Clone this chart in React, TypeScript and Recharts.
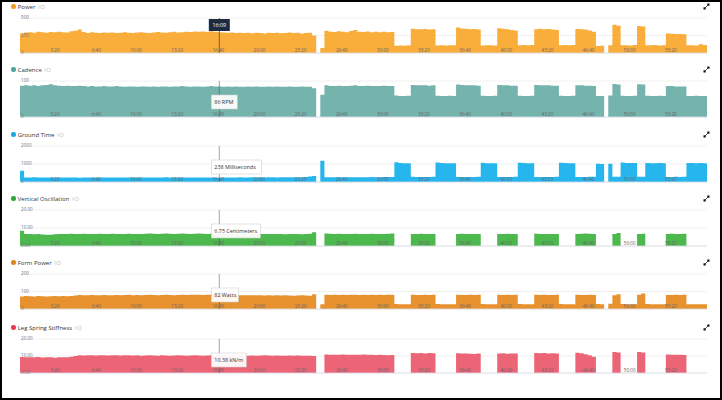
import React from "react";
import { AreaChart, Area, XAxis, YAxis, CartesianGrid, ReferenceLine } from "recharts";

document.body.style.margin = "0";

const FONT = "'Open Sans', 'Noto Sans', sans-serif";

// one sample every 20 s, 0 .. 55:40
const SAMPLE_SEC = 20;
const TIME_END = 3340;
const TIME_TICKS = [200, 400, 600, 800, 1000, 1200, 1400, 1600, 1800, 2000, 2200, 2400, 2600, 2800, 3000, 3200];
const TIME_LABELS = ["3:20", "6:40", "10:00", "13:20", "16:40", "20:00", "23:20", "26:40", "30:00", "33:20", "36:40", "40:00", "43:20", "46:40", "50:00", "53:20"];
const CURSOR_SEC = 969;
const CURSOR_LABEL = "16:09";

const POWER = [
  280, 292, 298, 290, 302, 295, 288, 300, 296, 305,
  298, 292, 310, 318, 335, 300, 285, 296, 290, 284,
  292, 288, 294, 286, 290, 296, 288, 284, 292, 298,
  290, 286, 294, 300, 292, 288, 296, 302, 294, 298,
  305, 300, 308, 302, 306, 300, 310, 302, 296, 292,
  288, 294, 286, 290, 284, 288, 282, 290, 286, 280,
  288, 284, 290, 282, 286, 292, 284, 288, 280, 286,
  290, 250, 0, 70, 318, 305, 300, 310, 302, 298,
  315, 330, 305, 300, 308, 296, 302, 298, 304, 296,
  300, 105, 108, 104, 110, 345, 340, 338, 342, 336,
  340, 108, 110, 106, 109, 112, 365, 350, 345, 340,
  342, 335, 108, 110, 112, 106, 352, 348, 340, 330,
  322, 112, 115, 110, 114, 340, 345, 338, 342, 336,
  330, 112, 115, 110, 113, 342, 338, 335, 320, 305,
  100, 105, 0, 110, 405, 390, 110, 112, 108, 115,
  385, 380, 112, 110, 115, 108, 112, 280, 275, 272,
  270, 268, 110, 112, 108, 125, 115, 112,
];

const CADENCE = [
  87, 88, 87, 88, 86, 88, 89, 91, 88, 87,
  86, 87, 86, 86, 87, 86, 85, 86, 85, 85,
  86, 85, 85, 86, 85, 84, 85, 85, 84, 85,
  85, 84, 85, 84, 85, 85, 84, 85, 85, 86,
  85, 84, 85, 85, 84, 85, 86, 85, 85, 84,
  85, 84, 85, 84, 84, 85, 84, 85, 84, 84,
  85, 84, 85, 84, 84, 85, 84, 84, 85, 84,
  84, 80, 0, 62, 88, 86, 86, 87, 86, 86,
  87, 88, 86, 86, 87, 86, 86, 86, 87, 86,
  86, 60, 58, 58, 59, 89, 88, 88, 88, 87,
  88, 59, 58, 58, 59, 58, 90, 89, 88, 88,
  88, 87, 59, 58, 58, 59, 89, 88, 88, 87,
  87, 59, 58, 58, 59, 89, 88, 88, 88, 87,
  87, 59, 58, 58, 59, 88, 88, 87, 87, 86,
  58, 58, 0, 60, 92, 90, 59, 58, 58, 59,
  91, 90, 59, 58, 58, 59, 58, 86, 86, 85,
  85, 85, 58, 58, 59, 58, 58, 58,
];

const GROUND_TIME = [
  620, 255, 250, 258, 246, 252, 248, 255, 250, 244,
  250, 256, 248, 245, 240, 246, 250, 248, 252, 246,
  250, 254, 248, 252, 256, 250, 248, 254, 250, 246,
  252, 256, 250, 248, 254, 258, 252, 250, 256, 252,
  248, 254, 250, 246, 252, 256, 250, 248, 238, 252,
  256, 250, 254, 258, 252, 256, 260, 254, 258, 256,
  262, 258, 256, 262, 260, 258, 264, 262, 270, 280,
  300, 330, 0, 1180, 270, 265, 268, 262, 266, 270,
  264, 262, 268, 270, 266, 272, 268, 270, 274, 278,
  280, 1100, 1060, 1045, 1040, 285, 280, 278, 282, 280,
  285, 1080, 1050, 1045, 1040, 1035, 280, 282, 278, 280,
  284, 290, 1070, 1045, 1040, 1035, 280, 278, 282, 284,
  290, 1070, 1050, 1045, 1040, 282, 280, 278, 282, 284,
  288, 1070, 1050, 1040, 1035, 282, 280, 284, 286, 290,
  1010, 1000, 0, 1010, 285, 290, 1080, 1060, 1050, 1050,
  285, 290, 1060, 1045, 1040, 1050, 1045, 280, 282, 285,
  284, 288, 1050, 1055, 1045, 1050, 1045, 1045,
];

const VERTICAL_OSC = [
  8.5, 6.6, 6.7, 6.5, 6.6, 6.4, 6.2, 6.3, 6.5, 6.6,
  6.7, 6.6, 6.8, 6.7, 6.6, 6.8, 6.7, 6.6, 6.7, 6.8,
  6.7, 6.6, 6.8, 6.7, 6.6, 6.7, 6.8, 6.7, 6.6, 6.7,
  6.8, 6.9, 6.8, 6.7, 6.8, 6.9, 6.8, 6.7, 6.8, 6.9,
  6.8, 6.7, 6.8, 6.9, 6.8, 6.7, 6.8, 6.7, 6.75, 6.8,
  6.7, 6.8, 6.7, 6.6, 6.7, 6.8, 6.7, 6.6, 6.7, 6.6,
  6.7, 6.6, 6.7, 6.6, 6.5, 6.6, 6.7, 6.6, 6.5, 6.7,
  6.8, 7.6, 7.6, null, 6.9, 6.8, 6.7, 6.8, 6.7, 6.6,
  6.7, 6.8, 6.7, 6.6, 6.7, 6.8, 6.7, 6.6, 6.7, 6.8,
  6.9, 6.9, null, null, null, 6.6, 6.7, 6.8, 6.7, 6.6,
  6.7, 6.7, null, null, null, null, 6.7, 6.8, 6.6, 6.7,
  6.6, 6.7, 6.7, null, null, null, 6.6, 6.7, 6.8, 6.6,
  6.7, 6.7, null, null, null, 6.8, 6.7, 6.6, 6.7, 6.6,
  6.7, 6.7, null, null, null, 6.7, 6.8, 6.9, 6.8, 6.7,
  6.7, null, null, null, 6.6, 7.2, 7.2, null, null, null,
  6.6, 6.8, 6.8, null, null, null, null, 6.7, 6.8, 6.6,
  6.7, 6.8, 6.8, null, null, null, null, null,
];

const FORM_POWER = [
  72, 74, 73, 72, 74, 73, 72, 73, 74, 73,
  74, 73, 75, 77, 80, 79, 78, 80, 79, 78,
  80, 79, 78, 80, 79, 80, 81, 79, 80, 79,
  80, 81, 80, 79, 80, 81, 80, 79, 80, 81,
  80, 81, 82, 81, 80, 81, 82, 81, 82, 81,
  80, 79, 80, 79, 78, 79, 78, 79, 78, 77,
  78, 77, 78, 77, 78, 77, 76, 77, 78, 77,
  76, 84, 0, 27, 82, 80, 81, 80, 81, 80,
  81, 82, 80, 81, 80, 81, 80, 81, 80, 81,
  82, 28, 27, 27, 27, 82, 80, 80, 81, 80,
  81, 28, 27, 27, 27, 27, 82, 80, 80, 81,
  80, 81, 28, 27, 27, 27, 82, 80, 81, 80,
  81, 28, 27, 27, 27, 82, 80, 81, 80, 80,
  81, 28, 27, 27, 27, 81, 80, 80, 81, 80,
  28, 27, 0, 30, 78, 84, 28, 27, 27, 27,
  82, 88, 28, 27, 27, 27, 27, 80, 80, 81,
  80, 81, 27, 27, 27, 27, 27, 27,
];

const LEG_SPRING = [
  9.4, 9.2, 9.3, 9.2, 9.4, 9.1, 9.3, 9.2, 9.0, 9.3,
  9.2, 9.3, 9.6, 10.0, 10.4, 10.3, 10.5, 10.4, 10.3, 10.5,
  10.4, 10.3, 10.4, 10.5, 10.3, 10.4, 10.5, 10.3, 10.4, 10.2,
  10.3, 10.4, 10.3, 10.2, 10.4, 10.3, 10.2, 10.3, 10.4, 10.3,
  10.2, 10.3, 10.4, 10.3, 10.2, 10.3, 10.4, 10.3, 10.38, 10.3,
  10.2, 10.3, 10.2, 10.3, 10.4, 10.2, 10.3, 10.2, 10.3, 10.4,
  10.3, 10.2, 10.3, 10.2, 10.1, 10.3, 10.2, 10.3, 10.2, 10.1,
  10.2, 10.0, 10.0, null, 10.9, 10.8, 10.7, 10.8, 10.9, 10.7,
  10.8, 10.7, 10.8, 10.9, 10.7, 10.8, 10.6, 10.7, 10.6, 10.5,
  10.6, 10.6, null, null, null, 11.8, 11.6, 11.7, 11.5, 11.8,
  11.6, 11.6, null, null, null, null, 11.6, 11.4, 11.5, 11.3,
  11.2, 11.4, 11.4, null, null, null, 11.4, 11.6, 11.3, 11.5,
  11.4, 11.4, null, null, null, 11.8, 11.6, 11.7, 11.5, 11.6,
  11.4, 11.4, null, null, null, 11.9, 11.6, 11.0, 10.4, 9.6,
  9.6, null, null, null, 12.3, 12.1, 12.1, null, null, null,
  12.3, 12.0, 12.0, null, null, null, null, 10.9, 10.8, 10.7,
  10.8, 10.6, 10.6, null, null, null, null, null,
];

const rows = POWER.map((_, i) => ({
  t: i * SAMPLE_SEC,
  power: POWER[i],
  cadence: CADENCE[i],
  groundTime: GROUND_TIME[i],
  verticalOsc: VERTICAL_OSC[i],
  formPower: FORM_POWER[i],
  legSpring: LEG_SPRING[i],
}));

const PANELS = [
  { key: "power", title: "Power", fill: "#F9AD3B", dot: "#F39C1C", top: 18, bottom: 53, ticks: [0, 250, 500], digits: 0, readout: null, boxW: 0 },
  { key: "cadence", title: "Cadence", fill: "#74B4AC", dot: "#4FA398", top: 81, bottom: 117, ticks: [0, 100], digits: 0, readout: "86 RPM", boxW: 26 },
  { key: "groundTime", title: "Ground Time", fill: "#27B5EE", dot: "#17A9E6", top: 146, bottom: 182, ticks: [0, 1000, 2000], digits: 0, readout: "238 Milliseconds", boxW: 50 },
  { key: "verticalOsc", title: "Vertical Oscillation", fill: "#4DB84D", dot: "#2FA63A", top: 210, bottom: 246, ticks: [0, 10, 20], digits: 2, readout: "6.75 Centimeters", boxW: 49 },
  { key: "formPower", title: "Form Power", fill: "#E8922F", dot: "#E0861C", top: 274, bottom: 309, ticks: [0, 100, 200], digits: 0, readout: "82 Watts", boxW: 27 },
  { key: "legSpring", title: "Leg Spring Stiffness", fill: "#EC6577", dot: "#E63A52", top: 339, bottom: 373, ticks: [0, 10, 20], digits: 2, readout: "10.38 kN/m", boxW: 35 },
];

const PAD = 3;

function TimeTick(props: any) {
  const i = TIME_TICKS.indexOf(props.payload.value);
  return (
    <text x={props.x - 1.5} y={props.y - 1.3} textAnchor="end" fontSize={4.6} fontFamily={FONT} fill="#666">
      {TIME_LABELS[i]}
    </text>
  );
}

function ValueTick(props: any) {
  return (
    <text x={props.x + 1} y={props.y + 1.3} fontSize={4.6} fontFamily={FONT} fill="#777">
      {Number(props.payload.value).toFixed(props.digits)}
    </text>
  );
}

function CursorLabel(props: any) {
  const { viewBox, text, dark, boxW } = props;
  if (!viewBox) return null;
  const x = viewBox.x;
  const y = viewBox.y;
  if (dark) {
    return (
      <g>
        <rect x={x - 10.5} y={y + 1} width={21} height={12} fill="#1c2b40" />
        <text x={x} y={y + 9} textAnchor="middle" fontSize={5.4} fontFamily={FONT} fill="#fff">
          {text}
        </text>
      </g>
    );
  }
  return (
    <g>
      <rect x={x - 8} y={y + 14} width={boxW} height={14} fill="#fff" fillOpacity={0.93} stroke="#cfcfcf" strokeWidth={0.6} />
      <text x={x - 5} y={y + 23} fontSize={5.4} fontFamily={FONT} fill="#333">
        {text}
      </text>
    </g>
  );
}

function InfoIcon() {
  return (
    <svg width={8} height={6} style={{ marginLeft: 2.5 }}>
      <line x1={1} y1={1.2} x2={1} y2={4.8} stroke="#c4c4c4" strokeWidth={0.7} />
      <circle cx={4.6} cy={3} r={1.8} fill="none" stroke="#c4c4c4" strokeWidth={0.7} />
    </svg>
  );
}

function ExpandIcon({ top }: { top: number }) {
  return (
    <svg width={7} height={7} style={{ position: "absolute", left: 702.5, top }}>
      <line x1={1.5} y1={5.5} x2={5.5} y2={1.5} stroke="#222" strokeWidth={0.7} />
      <rect x={0.5} y={4.3} width={2.2} height={2.2} fill="#111" />
      <rect x={4.3} y={0.5} width={2.2} height={2.2} fill="#111" />
    </svg>
  );
}

function Panel({ p }: { p: (typeof PANELS)[number] }) {
  const h = p.bottom - p.top;
  const titleY = p.top - 11.5;
  return (
    <>
      <div
        style={{
          position: "absolute",
          left: 11,
          top: titleY - 4,
          height: 8,
          display: "flex",
          alignItems: "center",
          fontFamily: FONT,
          fontSize: 6,
          color: "#333",
          whiteSpace: "nowrap",
        }}
      >
        <span style={{ width: 4.5, height: 4.5, borderRadius: "50%", background: p.dot, marginRight: 2.2 }} />
        <span>{p.title}</span>
        <InfoIcon />
      </div>
      <ExpandIcon top={titleY - 3.5} />
      <div style={{ position: "absolute", left: 0, top: p.top - PAD }}>
        <AreaChart width={722} height={h + 2 * PAD} data={rows} margin={{ top: PAD, right: 15, bottom: PAD - 1, left: 19 }}>
          <CartesianGrid vertical={false} stroke="#ececec" strokeWidth={0.8} />
          <Area
            type="stepAfter"
            dataKey={p.key}
            stroke="none"
            fill={p.fill}
            fillOpacity={1}
            dot={false}
            activeDot={false}
            isAnimationActive={false}
          />
          <ReferenceLine y={0} stroke="#dadde8" strokeWidth={0.8} />
          <XAxis
            dataKey="t"
            type="number"
            domain={[0, TIME_END]}
            ticks={TIME_TICKS}
            interval={0}
            height={1}
            axisLine={false}
            tickLine={false}
            tickSize={0}
            tickMargin={0}
            tick={<TimeTick />}
          />
          <YAxis
            domain={[0, p.ticks[p.ticks.length - 1]]}
            ticks={p.ticks}
            interval={0}
            width={1}
            axisLine={false}
            tickLine={false}
            tickSize={0}
            tickMargin={0}
            tick={<ValueTick digits={p.digits} />}
          />
          <ReferenceLine
            x={CURSOR_SEC}
            stroke={p.readout ? "#444" : "#6b5840"}
            strokeOpacity={p.readout ? 0.55 : 1}
            strokeWidth={0.9}
            label={<CursorLabel text={p.readout ?? CURSOR_LABEL} dark={!p.readout} boxW={p.boxW} />}
          />
        </AreaChart>
      </div>
    </>
  );
}

export default function App() {
  return (
    <div style={{ position: "relative", width: 722, height: 400, background: "#fff", overflow: "hidden" }}>
      {PANELS.map((p) => (
        <Panel key={p.key} p={p} />
      ))}
      <div
        style={{
          position: "absolute",
          inset: 0,
          border: "2px solid #000",
          boxSizing: "border-box",
          pointerEvents: "none",
        }}
      />
    </div>
  );
}
